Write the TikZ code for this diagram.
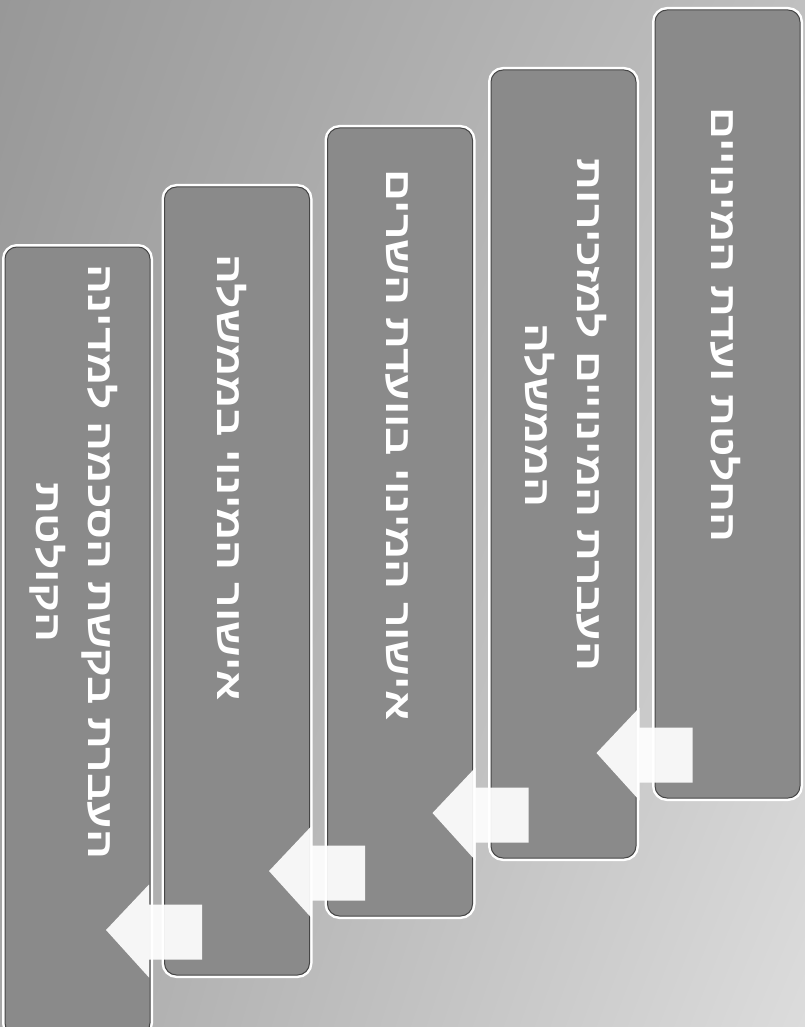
\documentclass[tikz,border=0pt]{standalone}
\usepackage{fontspec}
\newfontfamily\hebfont[Script=Hebrew, FakeStretch=1.23]{Liberation Sans}
\TeXXeTstate=1
\usetikzlibrary{calc,shadings}
\definecolor{bgUL}{RGB}{152,152,152}
\definecolor{bgUR}{RGB}{192,192,192}
\definecolor{bgLL}{RGB}{168,168,168}
\definecolor{bgLR}{RGB}{220,220,220}
\definecolor{boxgray}{RGB}{138,138,138}
\definecolor{boxedge}{RGB}{70,70,70}
\begin{document}
\begin{tikzpicture}[x=1pt,y=-1pt,
  stepbox/.style={rounded corners=12pt, fill=boxgray, draw=boxedge, line width=1pt,
    preaction={draw=white, line width=6pt}, minimum width=145pt, minimum height=788pt, inner sep=0pt},
  steptext/.style={rotate=-90, text=white, align=center, inner sep=0pt,
    font=\hebfont\bfseries\fontsize{36}{52}\selectfont},
  flowarrow/.style={fill=white, opacity=0.93}]
\useasboundingbox (0,0) rectangle (805,1027);
\clip (0,0) rectangle (805,1027);
\shade[upper left=bgUL, upper right=bgUR, lower left=bgLL, lower right=bgLR] (0,0) rectangle (805,1027);
% boxes
\node[stepbox] (b1) at (727.5,404) {};
\node[stepbox] (b2) at (563.5,464) {};
\node[stepbox] (b3) at (400,522) {};
\node[stepbox] (b4) at (237,581) {};
\node[stepbox] (b5) at (77.5,641) {};
% texts
\node[steptext] (t1) at (726,325) {\beginR החלטת ועדת המינויים\endR};
\node[steptext] (t2) at (566,415) {\beginR העברת המינויים למזכירות\endR\\\beginR הממשלה\endR};
\node[steptext] (t3) at (397,445) {\beginR אישור המינוי בוועדת השרים\endR};
\node[steptext] (t4) at (232,478) {\beginR אישור המינוי בממשלה\endR};
\node[steptext] (t5) at (74,562) {\beginR העברת בקשת הסכמה למדינה\endR\\\beginR הקולטת\endR};
% arrows between boxes
\foreach \i in {1,2,3,4}{
  \fill[flowarrow, shift={(b\i.south west)}]
    (38,-71) -- (-15,-71) -- (-15,-91) -- (-58,-45.5) -- (-15,2) -- (-15,-16) -- (38,-16) -- cycle;
}
\end{tikzpicture}
\end{document}
